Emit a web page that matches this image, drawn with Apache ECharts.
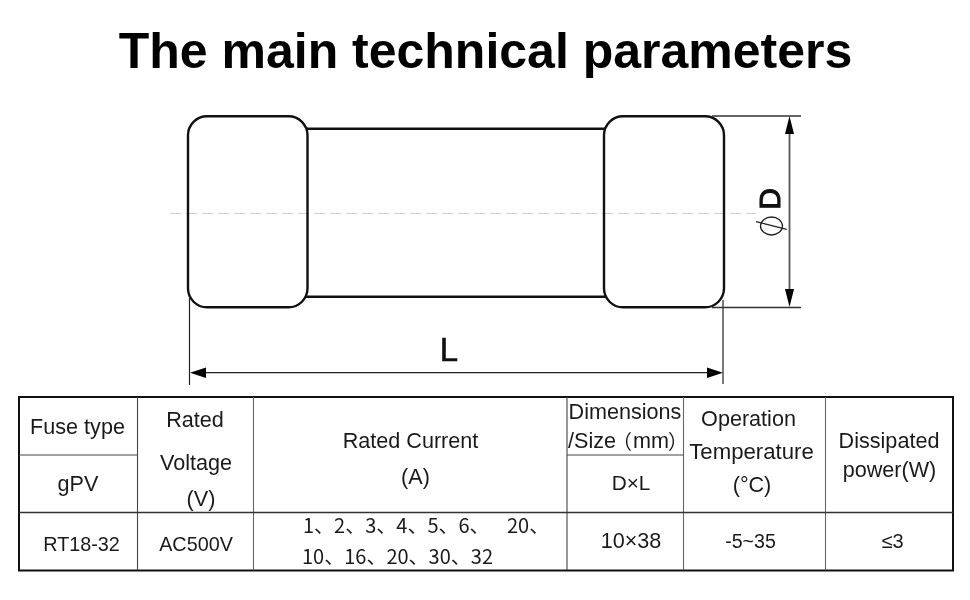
<!DOCTYPE html>
<html><head><meta charset="utf-8">
<style>html,body{margin:0;padding:0;background:#fff}#c{width:970px;height:600px}</style>
<script src="https://cdn.jsdelivr.net/npm/echarts@6/dist/echarts.min.js"></script>
</head><body><div id="c"></div>
<script>
const titleText = 'The main technical parameters';
const headerCells = ['Fuse type','gPV','Rated','Voltage','(V)','Rated Current','(A)','Dimensions','/Size','（','mm','）','D×L','Operation','Temperature','(°C)','Dissipated','power(W)'];
const rowCells = ['RT18-32','AC500V','10×38','-5~35','≤3'];
const currentLine1 = ['1、2、3、4、5、6、','20、'];
const currentLine2 = ['10、16、20、30、32'];

const SANS = '"Liberation Sans", Arial, sans-serif';
const CJK = '"Noto Sans CJK SC", sans-serif';
const els = [];
function line(x1,y1,x2,y2,color,w,dash){
  els.push({type:'line',shape:{x1,y1,x2,y2},style:{stroke:color,lineWidth:w,lineDash:dash||null}});
}
function tri(pts,color){
  els.push({type:'polygon',shape:{points:pts},style:{fill:color}});
}
function txt(s,x,y,size,o){
  o=o||{};
  els.push({type:'text',x,y,rotation:o.rot||0,style:{text:s,fill:o.color||'#1a1a1a',
    stroke:o.stroke||null,lineWidth:o.sw||0,
    font:(o.weight||'normal')+' '+size+'px '+(o.font||SANS),textAlign:o.align||'center',textVerticalAlign:'middle'}});
}
// title
txt(titleText,485.5,54.5,50,{weight:'bold',color:'#000'});
// centre line
line(170,213.5,756,213.5,'#cccccc',1,[11,5]);
// barrel
line(306,128.7,606,128.7,'#111',2.4);
line(306,296.7,606,296.7,'#111',2.4);
// caps
[[188,116.3,119.5,191],[604,116.3,120,191]].forEach(r=>{
  els.push({type:'rect',shape:{x:r[0],y:r[1],width:r[2],height:r[3],r:19},style:{fill:'none',stroke:'#111',lineWidth:2.4}});
});
// L dimension
line(189.5,296,189.5,385,'#222',1.2);
line(723,300,723,384,'#222',1.2);
line(195,372.7,716,372.7,'#222',1.2);
tri([[190,372.7],[206,367.5],[206,378]],'#000');
tri([[723,372.7],[707,367.5],[707,378]],'#000');
txt('L',449,351.5,33,{color:'#111',stroke:'#111',sw:0.6});
// D dimension
line(712,116,801,116,'#333',1.3);
line(712,307.5,801,307.5,'#333',1.3);
line(789.5,125,789.5,298,'#555',1.8);
tri([[789.5,116],[785,134],[794,134]],'#000');
tri([[789.5,307],[785,289],[794,289]],'#000');
txt('D',771.5,199,30,{rot:Math.PI/2,color:'#111',stroke:'#111',sw:1.1});
els.push({type:'ellipse',shape:{cx:771.5,cy:226,rx:11,ry:9},style:{fill:'none',stroke:'#222',lineWidth:1.3}});
line(756,221.7,786.7,229.3,'#222',1.3);
// table
els.push({type:'rect',shape:{x:19,y:397,width:934,height:173.5},style:{fill:'none',stroke:'#111',lineWidth:2}});
[137.5,253.5,567,683.5,825.5].forEach(x=>line(x,397,x,570,x===567||x===137.5?'#444':'#666',1.1));
line(19,512.5,953,512.5,'#333',1.3);
line(19,455,137.5,455,'#444',1.2);
line(567,455,683.5,455,'#444',1.2);
// table text
const S=21.6;
txt(headerCells[0],77.5,428.5,S);
txt(headerCells[1],78,485.5,S);
txt(headerCells[2],195,421.5,S);
txt(headerCells[3],196,464.5,S);
txt(headerCells[4],201,500.5,S);
txt(headerCells[5],410.5,442.5,S);
txt(headerCells[6],415.5,478.5,S);
txt(headerCells[7],625,413.5,S);
txt(headerCells[8],568,442.5,S,{align:'left'});
txt(headerCells[9],612,441.5,20,{font:CJK,align:'left'});
txt(headerCells[10],633,442.5,S,{align:'left'});
txt(headerCells[11],668,441.5,20,{font:CJK,align:'left'});
txt(headerCells[12],631,484.5,S-0.8);
txt(headerCells[13],748.5,420.5,S);
txt(headerCells[14],751.5,452.5,22.2);
txt(headerCells[15],752,486.5,S);
txt(headerCells[16],889,442.5,S);
txt(headerCells[17],889.5,471.5,S);
txt(rowCells[0],81.5,545.5,19.8);
txt(rowCells[1],196,545.5,19.8);
txt(rowCells[2],631,542,S);
txt(rowCells[3],750.5,542.5,19.6);
txt(rowCells[4],892.5,542,20);
txt(currentLine1[0],303,525,20,{font:CJK,align:'left'});
txt(currentLine1[1],507,525,20,{font:CJK,align:'left'});
txt(currentLine2[0],302,556,20,{font:CJK,align:'left'});

const chart = echarts.init(document.getElementById('c'),null,{renderer:'canvas'});
chart.setOption({animation:false,backgroundColor:'#fff',graphic:{elements:els}});
</script></body></html>
